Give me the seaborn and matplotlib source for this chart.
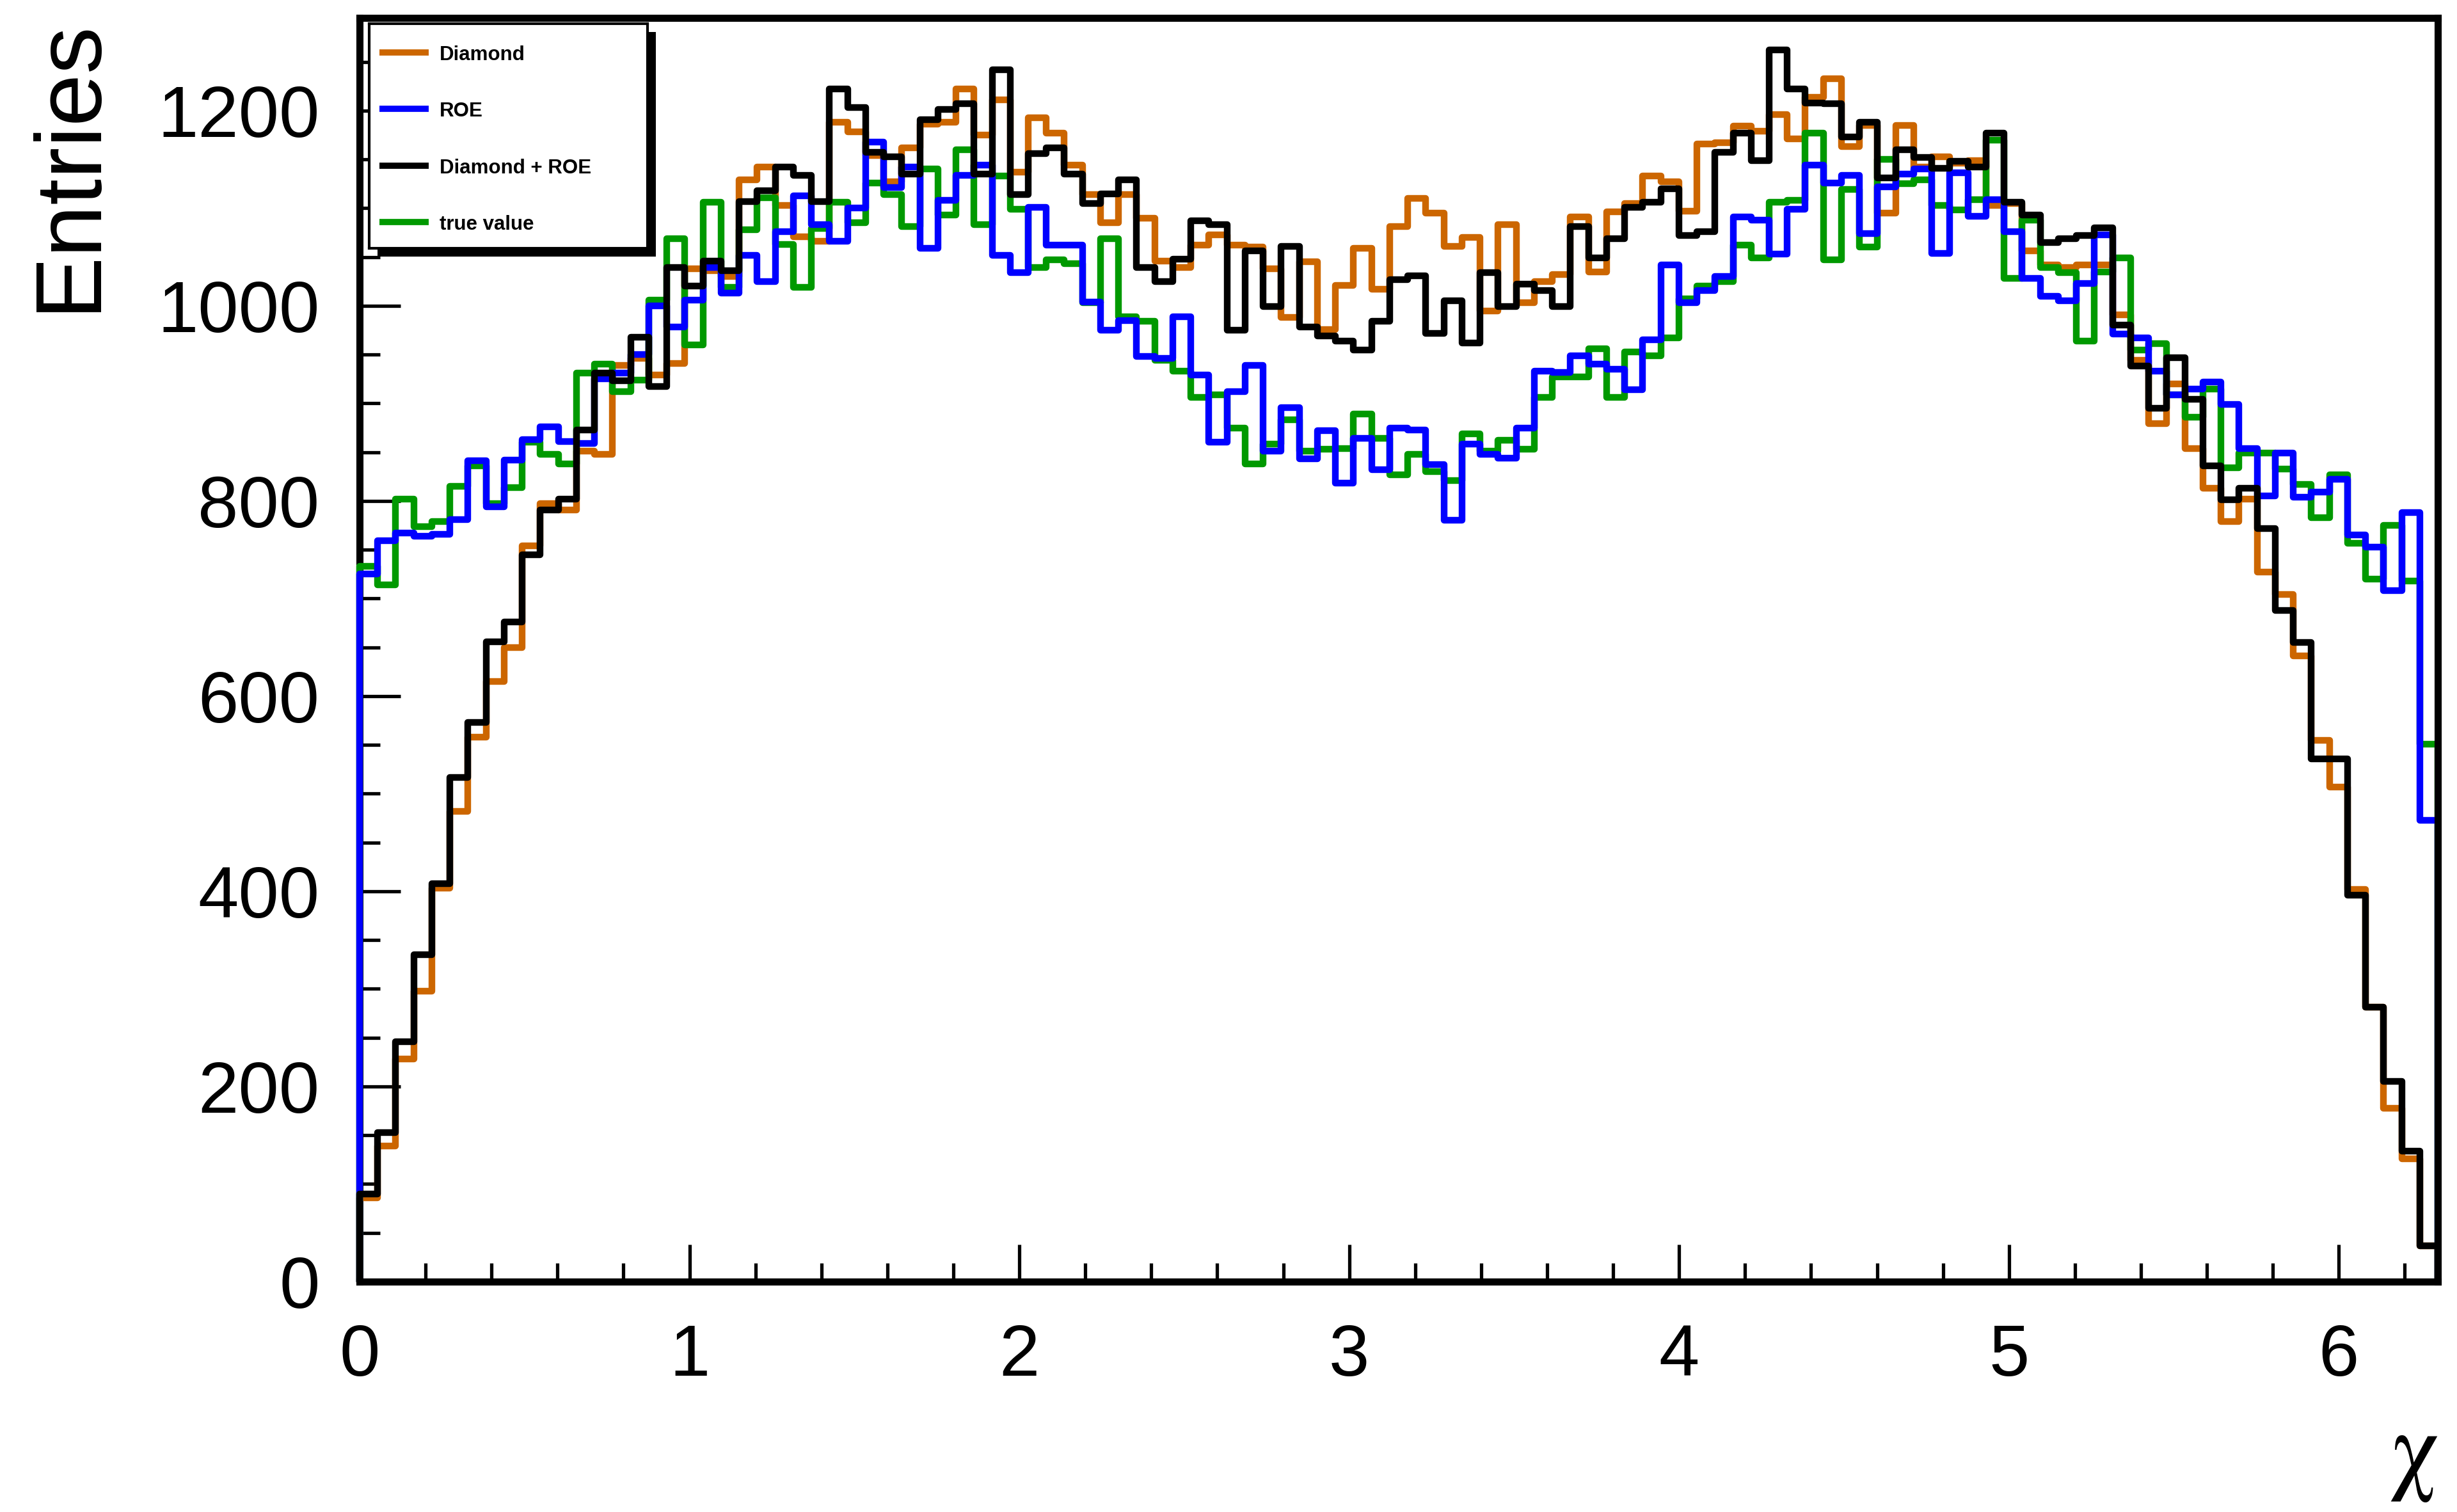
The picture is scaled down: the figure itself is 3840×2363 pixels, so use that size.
import numpy as np
import pandas as pd
import matplotlib
matplotlib.use("Agg")
import matplotlib.pyplot as plt
from matplotlib.patches import Rectangle
from matplotlib.ticker import MultipleLocator
import seaborn as sns

# histogram binning (115 bins over 0 .. 6.3)
x_min, x_max, n_bins = 0.0, 6.3, 115

diamond = [86, 139, 228, 298, 403, 482, 558, 615, 650, 754,
           797, 791, 851, 848, 939, 946, 929, 941, 1038, 1036,
           1030, 1129, 1142, 1103, 1071, 1066, 1188, 1178, 1154, 1127,
           1162, 1186, 1188, 1222, 1175, 1211, 1137, 1193, 1177, 1144,
           1114, 1085, 1114, 1090, 1046, 1039, 1062, 1073, 1062, 1060,
           1038, 988, 1045, 976, 1021, 1059, 1017, 1081, 1110, 1095,
           1061, 1070, 995, 1083, 1003, 1025, 1032, 1091, 1035, 1096,
           1105, 1133, 1127, 1097, 1166, 1167, 1184, 1179, 1196, 1171,
           1214, 1233, 1163, 1185, 1095, 1185, 1142, 1153, 1146, 1149,
           1103, 1105, 1056, 1042, 1039, 1042, 1042, 991, 944, 879,
           920, 854, 813, 779, 802, 727, 704, 641, 555, 507,
           402, 281, 178, 126, 37]

roe = [725, 759, 767, 764, 766, 781, 841, 794, 842, 863,
       876, 861, 859, 925, 931, 950, 1000, 978, 1006, 1039,
       1013, 1052, 1025, 1076, 1113, 1083, 1066, 1100, 1168, 1121,
       1142, 1059, 1108, 1134, 1144, 1052, 1034, 1101, 1062, 1062,
       1004, 975, 985, 948, 946, 989, 929, 860, 912, 939,
       851, 896, 843, 872, 818, 864, 832, 875, 873, 837,
       780, 858, 848, 844, 875, 933, 932, 949, 940, 935,
       914, 965, 1042, 1003, 1016, 1030, 1091, 1088, 1053, 1099,
       1144, 1126, 1134, 1074, 1122, 1135, 1140, 1054, 1136, 1092,
       1109, 1076, 1028, 1010, 1005, 1023, 1073, 971, 967, 933,
       909, 915, 922, 899, 854, 805, 849, 804, 809, 822,
       765, 753, 708, 788, 473]

diamond_roe = [90, 153, 246, 335, 408, 517, 573, 656, 676, 745,
               791, 802, 873, 931, 923, 968, 917, 1039, 1020, 1046,
               1036, 1107, 1118, 1142, 1134, 1107, 1222, 1203, 1157, 1153,
               1135, 1191, 1201, 1207, 1135, 1242, 1114, 1156, 1162, 1135,
               1105, 1115, 1129, 1039, 1025, 1048, 1087, 1083, 975, 1056,
               999, 1061, 978, 969, 964, 955, 984, 1027, 1031, 972,
               1005, 962, 1034, 999, 1022, 1016, 999, 1081, 1049, 1069,
               1101, 1106, 1120, 1072, 1076, 1157, 1177, 1149, 1262, 1222,
               1208, 1207, 1173, 1188, 1131, 1160, 1152, 1141, 1148, 1142,
               1177, 1106, 1093, 1065, 1069, 1072, 1080, 980, 938, 895,
               947, 904, 836, 801, 813, 772, 688, 655, 536, 536,
               396, 281, 205, 134, 37]

true_value = [733, 714, 802, 774, 779, 815, 836, 797, 814, 860,
              848, 838, 931, 940, 912, 924, 1006, 1069, 960, 1106,
              1019, 1078, 1111, 1063, 1019, 1079, 1106, 1085, 1126, 1114,
              1081, 1140, 1093, 1160, 1083, 1133, 1099, 1039, 1047, 1043,
              1003, 1069, 989, 984, 944, 933, 906, 909, 875, 838,
              858, 883, 851, 853, 854, 889, 864, 827, 848, 830,
              821, 869, 851, 862, 853, 906, 927, 927, 956, 906,
              953, 949, 967, 1007, 1020, 1025, 1062, 1049, 1106, 1108,
              1177, 1047, 1119, 1060, 1150, 1125, 1129, 1103, 1098, 1109,
              1170, 1028, 1088, 1039, 1034, 964, 1035, 1049, 955, 961,
              909, 886, 915, 834, 849, 849, 833, 817, 783, 827,
              757, 720, 775, 718, 551]

labels = ["Diamond", "ROE", "Diamond + ROE", "true value"]
colors = ["#cc6600", "#0000ff", "#000000", "#009900"]
draw_order = ["Diamond", "true value", "ROE", "Diamond + ROE"]

series = dict(zip(labels, [diamond, roe, diamond_roe, true_value]))
palette = dict(zip(labels, colors))

edges = np.linspace(x_min, x_max, n_bins + 1)

# build ROOT-like outline: rise from 0 at the left edge, drop to 0 at the right edge
frames = []
for name, counts in series.items():
    xs = np.r_[edges[0], edges]
    ys = np.r_[0.0, np.asarray(counts, float), 0.0]
    frames.append(pd.DataFrame({"chi": xs, "entries": ys, "series": name}))
df = pd.concat(frames, ignore_index=True)

sns.set_style("white")
plt.rcParams["font.family"] = ["Liberation Sans", "DejaVu Sans"]
plt.rcParams["mathtext.fontset"] = "stix"
plt.rcParams["text.color"] = "black"
plt.rcParams["axes.labelcolor"] = "black"
plt.rcParams["xtick.color"] = "black"
plt.rcParams["ytick.color"] = "black"

W, H = 3841, 2363
fig = plt.figure(figsize=(W / 100, H / 100), dpi=100)
ax = fig.add_axes([562 / W, 1 - 2003 / H, 3248 / W, 1975 / H])
ax.set_zorder(1)

sns.lineplot(data=df, x="chi", y="entries", hue="series", hue_order=draw_order,
             palette=palette, sort=False, estimator=None, drawstyle="steps-post",
             linewidth=7.5, legend=False, clip_on=False, ax=ax)

ax.set_xlim(x_min, x_max)
ax.set_ylim(0, 1295)
ax.xaxis.set_major_locator(MultipleLocator(1))
ax.xaxis.set_minor_locator(MultipleLocator(0.2))
ax.yaxis.set_major_locator(MultipleLocator(200))
ax.yaxis.set_minor_locator(MultipleLocator(50))

for side, sp in ax.spines.items():
    sp.set_visible(True)
    sp.set_color("black")
    sp.set_linewidth(8)
ax.spines["left"].set_zorder(1)
ax.spines["right"].set_zorder(5)

ax.tick_params(axis="both", which="both", direction="in", bottom=True, left=True,
               top=False, right=False, color="black", labelcolor="black",
               width=3.8, labelsize=82)
ax.tick_params(axis="y", which="major", length=46, pad=45)
ax.tick_params(axis="y", which="minor", length=23)
ax.tick_params(axis="x", which="major", length=42, pad=47)
ax.tick_params(axis="x", which="minor", length=21)

ax.set_ylabel("Entries", loc="top", fontsize=106, color="black")
ax.yaxis.set_label_coords(-0.1185, 1.0)
ax.set_xlabel(r"$\mathrm{\chi}$", loc="right", fontsize=110, color="black")
ax.xaxis.set_label_coords(1.0, -0.104)

# legend box with ROOT style drop shadow
lx, ly, lw, lh = 577, 37, 435, 351
shadow = Rectangle(((lx + 13) / W, 1 - (ly + lh + 13) / H), lw / W, lh / H,
                   transform=fig.transFigure, facecolor="black", edgecolor="none", zorder=2)
fig.add_artist(shadow)
leg = fig.add_axes([lx / W, 1 - (ly + lh) / H, lw / W, lh / H], zorder=3)
leg.set_xlim(0, 1)
leg.set_ylim(0, 1)
leg.set_xticks([])
leg.set_yticks([])
leg.set_facecolor("white")
for sp in leg.spines.values():
    sp.set_visible(True)
    sp.set_color("black")
    sp.set_linewidth(3)
for i, (name, col) in enumerate(zip(labels, colors)):
    row_y = 0.873 - i * 0.2522
    leg.plot([0.037, 0.214], [row_y, row_y], color=col, linewidth=7, solid_capstyle="butt")
    leg.text(0.253, row_y - 0.035, name, fontsize=22.5, fontweight="bold", va="baseline",
             color="black")

fig.savefig("out.png", dpi=100)
